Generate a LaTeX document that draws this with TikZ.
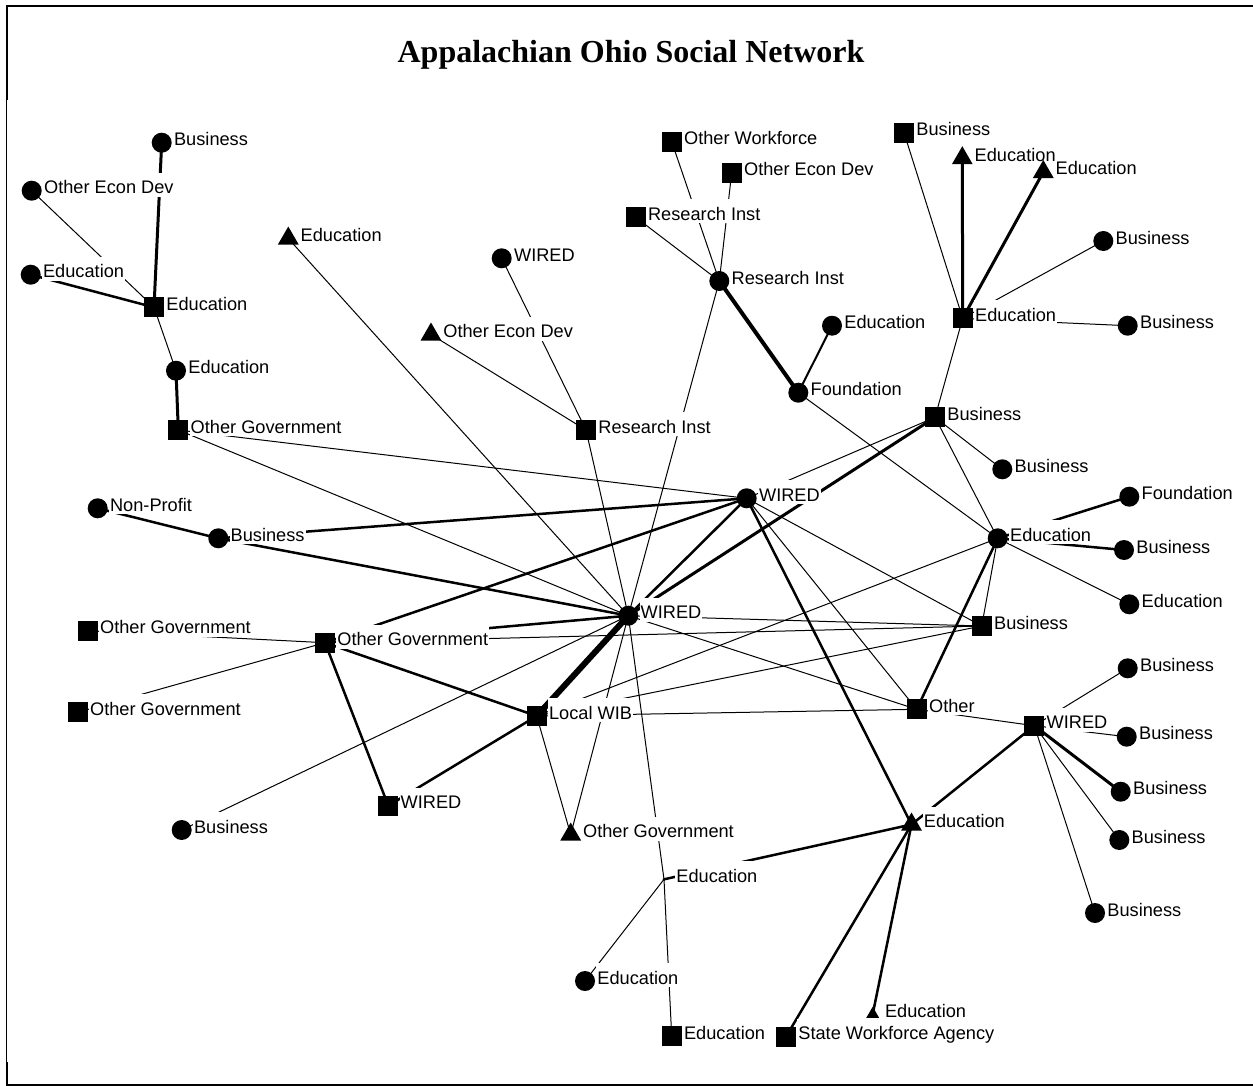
\documentclass[tikz,border=0pt]{standalone}
\usepackage{fontspec}
\setmainfont{Liberation Sans}
\newfontfamily\titlefont{Liberation Serif}
\usetikzlibrary{shapes.geometric}
\pgfdeclarelayer{edges}
\pgfdeclarelayer{labels}
\pgfsetlayers{edges,labels,main}

\tikzset{
  mk/.style={fill=black, draw=none, inner sep=0pt, outer sep=0pt},
  circ/.style={mk, circle, minimum size=10pt},
  sq/.style={mk, rectangle, minimum size=10pt},
  tri/.style={mk, regular polygon, regular polygon sides=3, minimum size=12pt},
  stri/.style={mk, regular polygon, regular polygon sides=3, minimum size=7.5pt},
  dot/.style={mk, circle, minimum size=1.5pt},
  lbl/.style={fill=white, inner xsep=0.5pt, inner ysep=0pt, text height=10.5pt,
    text depth=1.5pt, anchor=base west, font=\fontsize{9.1pt}{10pt}\selectfont},
  e1/.style={line width=0.5pt},
  e2/.style={line width=1pt},
  e3/.style={line width=1.25pt},
  e4/.style={line width=1.5pt},
  e5/.style={line width=2pt},
  e6/.style={line width=3pt},
}

% vertex: name, marker style, x, y, caption
\newcommand\vtx[5]{%
  \node[#2] (#1) at (#3,#4) {};
  \begin{pgfonlayer}{labels}
    \node[lbl] (#1-l) at ([shift={(11,3)}]#1.center) {#5};
  \end{pgfonlayer}}
% link between two vertices
\newcommand\lnk[3]{\draw[#1] (#2.center) -- (#3.center);}

\begin{document}
\begin{tikzpicture}[x=0.5pt,y=-0.5pt]
\useasboundingbox (0,0) rectangle (1253,1086);

% frame
\draw[line width=1pt] (6,6) -- (1253,6);
\draw[line width=1pt] (6.5,6) -- (6.5,100);
\draw[line width=0.5pt] (6.5,100) -- (6.5,1062);
\draw[line width=1pt] (6.5,1062) -- (6.5,1085);
\draw[line width=0.8pt] (6,1085) -- (1253,1085);

% title
\node[anchor=base, inner sep=0pt, font=\titlefont\bfseries\fontsize{16pt}{18pt}\selectfont]
  (title) at (631,63) {Appalachian Ohio Social Network};

% upper left group
\vtx{B1}{circ}{161.7}{142.7}{Business}
\vtx{OED1}{circ}{31.7}{190.7}{Other Econ Dev}
\vtx{EC1}{circ}{30.7}{274.7}{Education}
\vtx{ES1}{sq}{154}{307.3}{Education}
\vtx{EC2}{circ}{176}{370.7}{Education}
\vtx{OG1}{sq}{178.3}{430}{Other Government}
\vtx{ET1}{tri}{288.3}{238.5}{Education}

% upper middle group
\vtx{WR1}{circ}{501.7}{258.3}{WIRED}
\vtx{OEDT}{tri}{431}{334.5}{Other Econ Dev}
\vtx{RI1}{sq}{586}{430}{Research Inst}
\vtx{OW}{sq}{671.7}{141.7}{Other Workforce}
\vtx{OEDS}{sq}{731.7}{172.7}{Other Econ Dev}
\vtx{RIS}{sq}{635.7}{217.3}{Research Inst}
\vtx{RIC}{circ}{719.3}{281}{Research Inst}
\vtx{EC3}{circ}{832}{325.7}{Education}
\vtx{FD1}{circ}{798.3}{392.7}{Foundation}

% upper right group
\vtx{BS1}{sq}{904}{132.7}{Business}
\vtx{ET2}{tri}{962.3}{158.2}{Education}
\vtx{ET3}{tri}{1043.3}{172}{Education}
\vtx{BC1}{circ}{1103.3}{241}{Business}
\vtx{ES2}{sq}{962.7}{318.3}{Education}
\vtx{BC2}{circ}{1127.7}{325.7}{Business}
\vtx{BS2}{sq}{935}{417.3}{Business}
\vtx{BC3}{circ}{1002.3}{469.3}{Business}

% middle band
\vtx{NP}{circ}{97.7}{508.3}{Non-Profit}
\vtx{BC4}{circ}{218.3}{538.3}{Business}
\vtx{W1}{circ}{746.7}{498.3}{WIRED}
\vtx{WC}{circ}{628.3}{615.7}{WIRED}
\vtx{OG2}{sq}{87.7}{630.7}{Other Government}
\vtx{OG3}{sq}{325}{642.7}{Other Government}
\vtx{OG4}{sq}{77.7}{712.3}{Other Government}
\vtx{LW}{sq}{536.7}{716}{Local WIB}
\vtx{WS1}{sq}{388.3}{805.7}{WIRED}
\vtx{BC5}{circ}{181.7}{830}{Business}
\vtx{OGT}{tri}{570.7}{834.5}{Other Government}

% right side
\vtx{FD2}{circ}{1129.3}{496.7}{Foundation}
\vtx{EC4}{circ}{997.7}{538.3}{Education}
\vtx{BC6}{circ}{1124}{550}{Business}
\vtx{EC5}{circ}{1129.3}{604.3}{Education}
\vtx{BS3}{sq}{981.7}{626}{Business}
\vtx{BC7}{circ}{1127.7}{668.3}{Business}
\vtx{OT}{sq}{916.7}{709.3}{Other}
\vtx{WS2}{sq}{1034.3}{725.7}{WIRED}
\vtx{BC8}{circ}{1126.7}{736.7}{Business}
\vtx{BC9}{circ}{1120.7}{791.7}{Business}
\vtx{ETB}{tri}{911.5}{824.5}{Education}
\vtx{BC10}{circ}{1119.3}{840}{Business}
\vtx{BC11}{circ}{1095}{913}{Business}

% bottom
\vtx{EJ}{dot}{664}{879.3}{Education}
\vtx{EC6}{circ}{585}{981}{Education}
\vtx{ES3}{sq}{671.7}{1036}{Education}
\vtx{SWA}{sq}{786}{1036.7}{State Workforce Agency}
\vtx{ETS}{stri}{872.7}{1014.2}{Education}

\begin{pgfonlayer}{edges}
\lnk{e4}{B1}{ES1}
\lnk{e1}{OED1}{ES1}
\lnk{e3}{EC1}{ES1}
\lnk{e1}{ES1}{EC2}
\lnk{e4}{EC2}{OG1}
\lnk{e1}{OG1}{W1}
\lnk{e1}{OG1}{WC}
\lnk{e1}{ET1}{WC}
\lnk{e1}{WR1}{RI1}
\lnk{e1}{OEDT}{RI1}
\lnk{e1}{RI1}{WC}
\lnk{e1}{OW}{RIC}
\lnk{e1}{OEDS}{RIC}
\lnk{e1}{RIS}{RIC}
\lnk{e5}{RIC}{FD1}
\lnk{e1}{RIC}{WC}
\lnk{e2}{EC3}{FD1}
\lnk{e1}{FD1}{EC4}
\lnk{e1}{BS1}{ES2}
\lnk{e4}{ET2}{ES2}
\lnk{e4}{ET3}{ES2}
\lnk{e1}{BC1}{ES2}
\lnk{e1}{ES2}{BC2}
\lnk{e1}{ES2}{BS2}
\lnk{e1}{BS2}{BC3}
\lnk{e1}{BS2}{EC4}
\lnk{e1}{BS2}{W1}
\lnk{e4}{BS2}{WC}
\lnk{e3}{NP}{BC4}
\lnk{e3}{BC4}{W1}
\lnk{e3}{BC4}{WC}
\lnk{e1}{OG2}{OG3}
\lnk{e1}{OG4}{OG3}
\lnk{e3}{OG3}{WC}
\lnk{e3}{OG3}{W1}
\lnk{e1}{OG3}{BS3}
\lnk{e3}{OG3}{LW}
\lnk{e3}{OG3}{WS1}
\lnk{e1}{BC5}{WC}
\lnk{e6}{WC}{LW}
\lnk{e3}{WC}{W1}
\lnk{e1}{WC}{BS3}
\lnk{e1}{WC}{OT}
\lnk{e1}{WC}{OGT}
\lnk{e1}{WC}{EJ}
\lnk{e1}{EJ}{ES3}
\lnk{e3}{LW}{WS1}
\lnk{e1}{LW}{OGT}
\lnk{e1}{LW}{OT}
\lnk{e1}{LW}{EC4}
\lnk{e1}{LW}{BS3}
\lnk{e1}{W1}{BS3}
\lnk{e1}{W1}{OT}
\lnk{e3}{W1}{ETB}
\lnk{e3}{EC4}{FD2}
\lnk{e3}{EC4}{BC6}
\lnk{e1}{EC4}{EC5}
\lnk{e1}{EC4}{BS3}
\lnk{e3}{EC4}{OT}
\lnk{e1}{OT}{WS2}
\lnk{e1}{WS2}{BC7}
\lnk{e1}{WS2}{BC8}
\lnk{e4}{WS2}{BC9}
\lnk{e1}{WS2}{BC10}
\lnk{e1}{WS2}{BC11}
\lnk{e3}{WS2}{ETB}
\lnk{e3}{ETB}{EJ}
\lnk{e3}{ETB}{SWA}
\lnk{e3}{ETB}{ETS}
\lnk{e1}{EJ}{EC6}
\end{pgfonlayer}
\end{tikzpicture}
\end{document}
